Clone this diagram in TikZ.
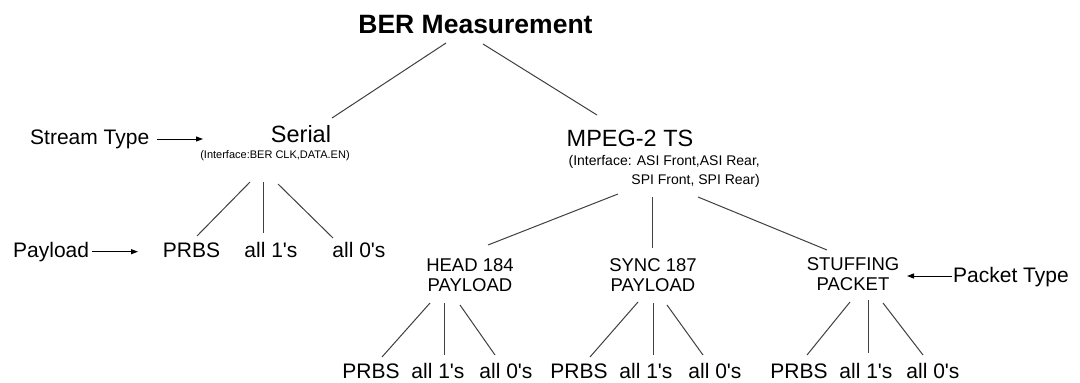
\documentclass[tikz,border=0pt]{standalone}
\usepackage{fontspec}
\setmainfont{Liberation Sans}
\usetikzlibrary{arrows.meta}
\begin{document}
\begin{tikzpicture}[x=1pt,y=-1pt,
  titletxt/.style={inner sep=0pt,anchor=base,font=\fontsize{26.5}{30}\selectfont\bfseries},
  big/.style={inner sep=0pt,anchor=base,font=\fontsize{23.5}{27}\selectfont},
  txt/.style={inner sep=0pt,anchor=base,font=\fontsize{21}{25}\selectfont},
  iface/.style={inner sep=0pt,anchor=base,font=\fontsize{11}{13}\selectfont},
  pkt/.style={inner sep=0pt,anchor=north,align=center,font=\fontsize{18.5}{20}\selectfont},
  edge/.style={draw=black!75,line width=1pt},
  pointer/.style={draw=black,line width=1pt,-{Triangle[length=7pt,width=5pt]}}]
\useasboundingbox[fill=white] (0,0) rectangle (1080,383);

% root
\node[titletxt] (root) at (475.5,33) {BER Measurement};

% stream types
\node[big] (ser) at (301,142) {Serial};
\node[iface] (seri) at (275,158) {(Interface:BER CLK,DATA.EN)};
\node[big] (mpeg) at (630,146) {MPEG-2 TS};
\node[inner sep=0pt,anchor=north east,align=right,font=\fontsize{14}{19}\selectfont]
  (mpegi) at (760,155) {(Interface: ASI Front,ASI Rear,\\SPI Front, SPI Rear)};

\draw[edge] ([shift={(-29.5,10)}]root.base) -- ([shift={(31,-24)}]ser.base);
\draw[edge] ([shift={(7.5,11)}]root.base) -- ([shift={(-33,-31)}]mpeg.base);

% serial payloads
\node[txt] (s1) at (191.5,257) {PRBS};
\node[txt] (s2) at (271,257) {all 1\textquotesingle s};
\node[txt] (s3) at (359,257) {all 0\textquotesingle s};
\draw[edge] ([shift={(-25,24)}]seri.base) -- ([shift={(5.5,-21)}]s1.base);
\draw[edge] ([shift={(-12,24)}]seri.base) -- ([shift={(-8,-24)}]s2.base);
\draw[edge] ([shift={(3,26)}]seri.base) -- ([shift={(-26,-19)}]s3.base);

% side labels
\node[txt,anchor=base west] (st) at (30,144) {Stream Type};
\draw[pointer] ([shift={(127,-5)}]st.base west) -- ([shift={(-98,-3)}]ser.base);
\node[txt,anchor=base west] (pl) at (13,257) {Payload};
\draw[pointer] ([shift={(79,-5.3)}]pl.base west) -- ([shift={(-53.5,-5.3)}]s1.base);

% packet types
\node[pkt] (hd) at (470,258) {HEAD 184\\PAYLOAD};
\node[pkt] (sy) at (653,258) {SYNC 187\\PAYLOAD};
\node[pkt] (sf) at (853,257) {STUFFING\\PACKET};
\draw[edge] ([shift={(-142,39)}]mpegi.north east) -- ([shift={(18,-13)}]hd.north);
\draw[edge] ([shift={(-108,42)}]mpegi.north east) -- ([shift={(-1,-10)}]sy.north);
\draw[edge] ([shift={(-62,42)}]mpegi.north east) -- ([shift={(-26,-7)}]sf.north);

\node[txt,anchor=base west] (pt) at (953,282) {Packet Type};
\draw[pointer] ([shift={(-1,-6)}]pt.base west) -- ([shift={(54,19)}]sf.north);

% bottom payloads
\node[txt] (h1) at (371,378) {PRBS};
\node[txt] (h2) at (438,378) {all 1\textquotesingle s};
\node[txt] (h3) at (506,378) {all 0\textquotesingle s};
\node[txt] (y1) at (579,378) {PRBS};
\node[txt] (y2) at (646,378) {all 1\textquotesingle s};
\node[txt] (y3) at (715,378) {all 0\textquotesingle s};
\node[txt] (f1) at (799,378) {PRBS};
\node[txt] (f2) at (866,378) {all 1\textquotesingle s};
\node[txt] (f3) at (933,378) {all 0\textquotesingle s};

\draw[edge] ([shift={(-40,45)}]hd.north) -- ([shift={(11,-21)}]h1.base);
\draw[edge] ([shift={(-26,45)}]hd.north) -- ([shift={(6,-23)}]h2.base);
\draw[edge] ([shift={(-10,47)}]hd.north) -- ([shift={(-11,-23)}]h3.base);

\draw[edge] ([shift={(-15,44)}]sy.north) -- ([shift={(11,-21)}]y1.base);
\draw[edge] ([shift={(0,45)}]sy.north) -- ([shift={(7,-23)}]y2.base);
\draw[edge] ([shift={(14,47)}]sy.north) -- ([shift={(-12,-23)}]y3.base);

\draw[edge] ([shift={(-3,45)}]sf.north) -- ([shift={(8,-23)}]f1.base);
\draw[edge] ([shift={(15,43)}]sf.north) -- ([shift={(2,-25)}]f2.base);
\draw[edge] ([shift={(30,46)}]sf.north) -- ([shift={(-10,-23)}]f3.base);
\end{tikzpicture}
\end{document}
